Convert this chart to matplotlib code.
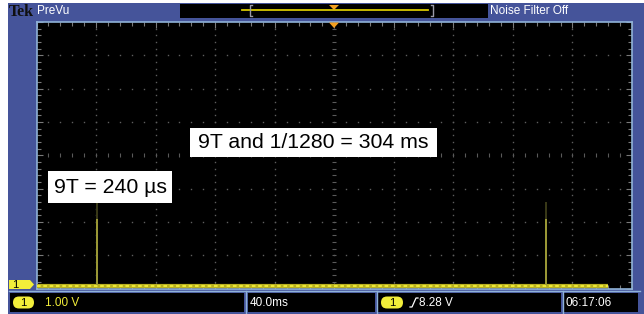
import matplotlib
matplotlib.use("Agg")
import matplotlib.pyplot as plt
from matplotlib.patches import Rectangle, Polygon, FancyBboxPatch
from matplotlib.transforms import IdentityTransform
from matplotlib.ticker import MultipleLocator

# ---- data ----
time_per_div_ms = 40.0
volt_per_div = 1.00
n_hdiv = 10
n_vdiv = 8
baseline_t = [0.0, 384.0]          # ms, extent of the acquired trace
baseline_v = [-3.92, -3.92]        # V
spike_t = [40.7, 342.5]            # ms
spike_top_v = [-1.92, -1.92]       # V (bright part)
spike_faint_v = [-1.4, -1.4]       # V (faint upper part)
annot_texts = ["9T and 1/1280 = 304 ms", "9T = 240 µs"]
status_texts = ["1.00 V", "40.0ms", "8.28 V", "06:17:06"]

W, H = 644, 314
BLUE = "#45549a"
LBLUE = "#8fb2d8"
YEL = "#f2ee3a"
NARROW = ["Liberation Sans Narrow", "Liberation Sans", "DejaVu Sans"]

fig = plt.figure(figsize=(W / 100, H / 100), dpi=100)
fig.patch.set_facecolor("white")

def fx(x):
    return x / W

def fy(y):
    return 1 - y / H

def rect(x0, y0, x1, y1, fc, ec="none", lw=0, z=0):
    r = Rectangle((fx(x0), fy(y1)), (x1 - x0) / W, (y1 - y0) / H,
                  transform=fig.transFigure, facecolor=fc, edgecolor=ec,
                  linewidth=lw, zorder=z)
    fig.add_artist(r)
    return r

def ftext(x, y, s, **kw):
    fig.text(fx(x), fy(y), s, transform=fig.transFigure, **kw)

# blue frame
rect(8, 3, 644, 314, BLUE, z=0)

# ---- top bar ----
ftext(9, 11.5, "Tek", family=["Liberation Serif", "DejaVu Serif"], fontsize=11.5,
      fontweight="bold", color="#101010", va="center", ha="left", zorder=5)
ftext(37, 11, "PreVu", family=NARROW, fontsize=8.5, color="white",
      va="center", ha="left", zorder=5)
rect(180, 4, 488, 18, "black", z=2)
fig.add_artist(plt.Line2D([fx(242), fx(428)], [fy(10), fy(10)],
                          transform=fig.transFigure, color="#d8c800", lw=1.3, zorder=3))
for bx, sgn in [(250, 1), (433, -1)]:
    fig.add_artist(plt.Line2D([fx(bx + 2 * sgn), fx(bx), fx(bx), fx(bx + 2 * sgn)],
                              [fy(5), fy(5), fy(16), fy(16)],
                              transform=fig.transFigure, color="#9a9aa8", lw=1, zorder=3))
fig.add_artist(Polygon([(fx(329), fy(5)), (fx(339), fy(5)), (fx(334), fy(10))],
                       closed=True, transform=fig.transFigure,
                       facecolor="#f4a020", edgecolor="none", zorder=4))
ftext(490, 11, "Noise Filter Off", family=NARROW, fontsize=8.5, color="white",
      va="center", ha="left", zorder=5)

# ---- graticule axes ----
ax = fig.add_axes([fx(36.5), fy(288.5), (632 - 36.5) / W, (288.5 - 22) / H])
ax.set_facecolor("black")
ax.set_xlim(0, n_hdiv * time_per_div_ms)
ax.set_ylim(-n_vdiv / 2 * volt_per_div, n_vdiv / 2 * volt_per_div)
for s in ax.spines.values():
    s.set_color(LBLUE)
    s.set_linewidth(1.2)
ax.xaxis.set_major_locator(MultipleLocator(time_per_div_ms))
ax.xaxis.set_minor_locator(MultipleLocator(time_per_div_ms / 5))
ax.yaxis.set_major_locator(MultipleLocator(volt_per_div))
ax.yaxis.set_minor_locator(MultipleLocator(volt_per_div / 5))
ax.tick_params(which="both", direction="in", top=True, right=True,
               labelbottom=False, labelleft=False, color="#7a7a7a", width=0.8)
ax.tick_params(which="major", length=4)
ax.tick_params(which="minor", length=3)

# dotted grid
xmax = n_hdiv * time_per_div_ms
ymax = n_vdiv / 2 * volt_per_div
ydots = [-ymax + i * volt_per_div / 5 for i in range(1, n_vdiv * 5)]
xdots = [i * time_per_div_ms / 5 for i in range(1, n_hdiv * 5)]
for k in range(1, n_hdiv):
    xk = k * time_per_div_ms
    if k == n_hdiv // 2:
        continue
    ax.plot([xk] * len(ydots), ydots, ls="none", marker="s", ms=1.0,
            mec="none", mfc="#5e5e5e", zorder=1)
for k in range(1, n_vdiv):
    yk = -ymax + k * volt_per_div
    if k == n_vdiv // 2:
        continue
    ax.plot(xdots, [yk] * len(xdots), ls="none", marker="s", ms=1.0,
            mec="none", mfc="#5e5e5e", zorder=1)
# center cross with small ticks
xc = xmax / 2
ax.plot([xc] * len(ydots), ydots, ls="none", marker="_", ms=3, mew=0.8,
        color="#5a5a5a", zorder=1)
ax.plot(xdots, [0] * len(xdots), ls="none", marker="|", ms=2.5, mew=0.8,
        color="#5a5a5a", zorder=1)

# trace
ax.plot(baseline_t, baseline_v, color="#b8b020", lw=3.0, solid_capstyle="butt", zorder=3)
ax.plot(baseline_t, baseline_v, color=YEL, lw=1.3, ls=(0, (2, 1.5)), zorder=4)
ax.vlines(spike_t, baseline_v[0], spike_faint_v, color="#3a3a18", lw=1.4, zorder=2)
ax.vlines(spike_t, baseline_v[0], spike_top_v, color="#9c9a36", lw=1.4, zorder=3)

# trigger position marker
fig.add_artist(Polygon([(fx(329), fy(22.5)), (fx(339), fy(22.5)), (fx(334), fy(28))],
                       closed=True, transform=fig.transFigure,
                       facecolor="#f4a020", edgecolor="none", zorder=6))

# ground marker
fig.add_artist(Polygon([(fx(9), fy(280)), (fx(30), fy(280)), (fx(34), fy(284.5)),
                        (fx(30), fy(289)), (fx(9), fy(289))], closed=True,
                       transform=fig.transFigure, facecolor=YEL, edgecolor="none", zorder=6))
ftext(12, 284.5, "1", family=NARROW, fontsize=8, color="black", va="center",
      ha="left", zorder=7)

# annotation boxes
rect(190, 128, 437, 157, "white", z=8)
ftext(313.5, 143, annot_texts[0], family=["Liberation Sans", "DejaVu Sans"],
      fontsize=15.3, color="black", va="center", ha="center", zorder=9)
rect(48, 171, 172, 203, "white", z=8)
ftext(110, 187.5, annot_texts[1], family=["Liberation Sans", "DejaVu Sans"],
      fontsize=15.3, color="black", va="center", ha="center", zorder=9)

# ---- bottom status bar ----
fig.add_artist(plt.Line2D([fx(9), fx(640)], [fy(290.5), fy(290.5)],
                          transform=fig.transFigure, color=LBLUE, lw=1, zorder=3))
for x0, x1 in [(10, 244), (248, 375), (378, 561), (564, 638)]:
    rect(x0, 293, x1, 312, "black", z=2)
for sx in [246, 376.5, 562.5]:
    fig.add_artist(plt.Line2D([fx(sx), fx(sx)], [fy(290.5), fy(314)],
                              transform=fig.transFigure, color=LBLUE, lw=1, zorder=3))

def pill(x0, x1, yc, h=12):
    # pixel coordinates (display space, origin bottom-left)
    p = FancyBboxPatch((x0, H - yc - h / 2), x1 - x0, h,
                       boxstyle="round,pad=0,rounding_size=%g" % (h / 2),
                       transform=IdentityTransform(), facecolor=YEL,
                       edgecolor="none", zorder=4)
    fig.add_artist(p)

pill(13, 34, 302.5)
ftext(23.5, 302.5, "1", family=NARROW, fontsize=8, color="black", va="center",
      ha="center", zorder=5)
ftext(45, 302.5, status_texts[0], family=NARROW, fontsize=8.5, color=YEL,
      va="center", ha="left", zorder=5)
ftext(250, 302.5, status_texts[1], family=NARROW, fontsize=8.5, color="white",
      va="center", ha="left", zorder=5)
pill(381, 403, 302.5)
ftext(392, 302.5, "1", family=NARROW, fontsize=8, color="black", va="center",
      ha="center", zorder=5)
fig.add_artist(plt.Line2D([fx(410), fx(412), fx(416), fx(418)],
                          [fy(307), fy(307), fy(298), fy(298)],
                          transform=fig.transFigure, color="white", lw=0.9, zorder=5))
ftext(419, 302.5, status_texts[2], family=NARROW, fontsize=8.5, color="white",
      va="center", ha="left", zorder=5)
ftext(566, 302.5, status_texts[3], family=NARROW, fontsize=8.5, color="white",
      va="center", ha="left", zorder=5)

fig.savefig("out.png", dpi=100, facecolor=fig.get_facecolor())
